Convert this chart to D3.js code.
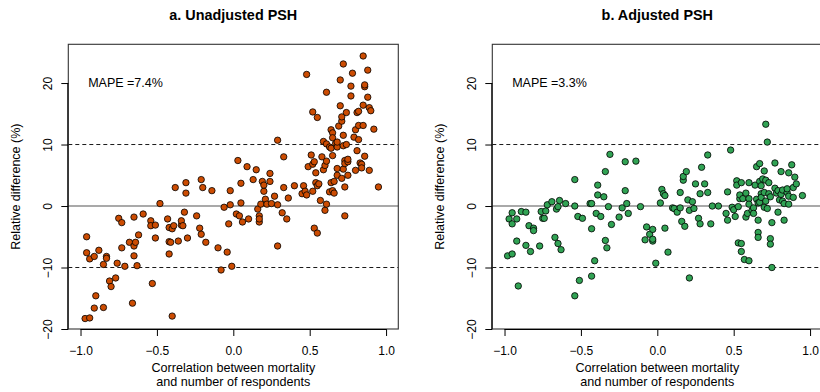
<!DOCTYPE html>
<html lang="en">
<head>
  <meta charset="UTF-8">
  <title>PSH relative difference</title>
  <script src="https://d3js.org/d3.v7.min.js"></script>
  <style>
    body { margin: 0; background: #fff; }
    svg text { font-family: "Liberation Sans", Arial, Helvetica, sans-serif; fill: #000; }
    .frame { fill: none; stroke: #333; stroke-width: 1.1; }
    .dot { stroke: #000; stroke-width: 0.8; }
  </style>
</head>
<body>
  <svg width="820" height="392"></svg>

  <script>
    // correlation (x) vs relative difference in % (y)
    let unadjusted = [
      [-0.96,-5.0],[-0.96,-7.6],[-0.94,-8.6],[-0.97,-18.3],[-0.94,-18.2],[-0.91,-8.2],[-0.88,-7.2],
      [-0.90,-14.6],[-0.91,-16.6],[-0.85,-16.5],[-0.85,-9.5],[-0.83,-8.2],[-0.83,-8.5],[-0.81,-12.2],
      [-0.80,-13.1],[-0.77,-11.7],[-0.76,-9.3],[-0.75,-2.0],[-0.73,-6.8],[-0.73,-2.7],[-0.71,-9.8],
      [-0.68,-5.9],[-0.65,-1.8],[-0.66,-15.8],[-0.65,-6.5],[-0.64,-5.9],[-0.65,-8.1],[-0.63,-9.7],
      [-0.62,-4.7],[-0.59,-1.3],[-0.54,-2.4],[-0.54,-3.2],[-0.53,-12.6],[-0.51,-3.1],[-0.51,-5.2],
      [-0.48,0.4],[-0.43,-2.1],[-0.42,-5.8],[-0.42,-7.8],[-0.42,-3.5],[-0.41,-5.9],[-0.40,-17.9],
      [-0.40,-3.7],[-0.39,-3.2],[-0.38,3.0],[-0.36,-5.7],[-0.34,-3.1],[-0.34,-2.4],[-0.33,-3.2],
      [-0.32,-1.0],[-0.31,2.1],[-0.31,3.8],[-0.30,-5.2],[-0.24,-1.6],[-0.22,-3.6],[-0.21,4.3],
      [-0.21,-4.6],[-0.20,3.0],[-0.18,-5.9],[-0.14,2.5],[-0.10,-6.8],[-0.08,-10.4],[-0.06,-0.2],
      [-0.04,-7.5],[-0.03,-2.9],[-0.02,2.5],[-0.02,0.2],[-0.01,-9.8],[0.02,-1.3],[0.03,7.4],
      [0.04,-1.6],[0.05,0.5],[0.05,3.7],[0.06,-2.6],[0.09,6.4],[0.10,-2.1],[0.13,4.3],[0.15,5.9],
      [0.16,-0.5],[0.17,-1.6],[0.17,-2.6],[0.17,-2.1],[0.18,0.3],[0.19,4.0],[0.20,2.4],[0.20,3.4],
      [0.21,1.1],[0.22,0.3],[0.24,4.0],[0.24,5.3],[0.25,0.4],[0.27,1.6],[0.29,-6.5],[0.29,10.7],
      [0.29,0.2],[0.32,-1.1],[0.33,3.0],[0.33,8.0],[0.35,-2.1],[0.36,1.3],[0.40,3.3],[0.45,2.0],
      [0.46,3.3],[0.47,2.4],[0.48,21.4],[0.48,1.8],[0.49,6.4],[0.51,8.3],[0.52,15.3],[0.52,6.8],
      [0.52,2.4],[0.53,-3.6],[0.53,7.2],[0.54,5.4],[0.54,3.8],[0.55,14.4],[0.55,-4.4],[0.55,3.3],
      [0.56,3.6],[0.57,0.9],[0.58,8.0],[0.59,10.5],[0.59,5.9],[0.60,-0.7],[0.60,6.6],[0.61,18.5],
      [0.61,0.3],[0.61,7.3],[0.61,10.1],[0.63,2.3],[0.63,9.6],[0.64,3.8],[0.64,12.4],[0.64,9.4],
      [0.65,11.9],[0.65,8.2],[0.65,2.5],[0.65,11.1],[0.66,4.0],[0.66,2.1],[0.67,10.2],[0.68,5.0],
      [0.68,6.1],[0.68,9.6],[0.68,10.4],[0.69,13.0],[0.70,16.3],[0.70,20.5],[0.71,13.8],[0.71,4.5],
      [0.71,14.5],[0.72,6.0],[0.72,11.5],[0.72,23.1],[0.72,9.8],[0.73,3.1],[0.73,7.4],[0.73,-1.6],
      [0.73,6.9],[0.74,10.0],[0.74,15.2],[0.75,7.2],[0.75,5.0],[0.75,7.6],[0.77,17.9],[0.77,19.5],
      [0.78,21.6],[0.79,11.2],[0.80,12.4],[0.80,5.8],[0.81,15.2],[0.81,9.0],[0.82,15.4],[0.82,10.8],
      [0.82,13.1],[0.83,7.0],[0.84,6.8],[0.84,6.2],[0.85,16.4],[0.85,13.1],[0.85,24.4],[0.86,19.4],
      [0.86,8.1],[0.86,19.7],[0.88,17.7],[0.88,22.1],[0.89,5.8],[0.89,16.0],[0.90,15.5],[0.92,12.5],
      [0.95,3.1]
    ];

    let adjusted = [
      [-0.98,-8.1],[-0.97,-2.1],[-0.95,-2.9],[-0.95,-1.1],[-0.95,-7.8],[-0.92,-2.1],[-0.92,-5.7],
      [-0.91,-13.0],[-0.89,-0.9],[-0.86,-1.0],[-0.86,-6.4],[-0.84,-3.2],[-0.83,-7.4],[-0.81,-3.6],
      [-0.81,-4.0],[-0.77,-6.5],[-0.76,-0.9],[-0.75,-2.0],[-0.74,-2.0],[-0.73,-0.8],[-0.72,0.2],
      [-0.69,0.7],[-0.67,-5.1],[-0.66,-0.5],[-0.65,-0.1],[-0.65,-6.1],[-0.64,0.9],[-0.63,-7.1],
      [-0.60,0.4],[-0.54,4.3],[-0.54,0.0],[-0.54,-14.6],[-0.52,-1.7],[-0.51,-12.1],[-0.49,-2.0],
      [-0.44,0.4],[-0.43,0.4],[-0.43,-3.7],[-0.43,-11.4],[-0.41,-8.9],[-0.40,-1.2],[-0.39,1.8],
      [-0.39,3.4],[-0.37,-1.7],[-0.35,1.5],[-0.34,5.6],[-0.34,-5.6],[-0.33,-6.8],[-0.32,-0.1],
      [-0.31,8.4],[-0.30,-3.0],[-0.25,-1.8],[-0.23,-0.3],[-0.21,7.2],[-0.21,2.5],[-0.20,0.4],
      [-0.19,-1.2],[-0.14,7.3],[-0.11,-0.1],[-0.08,-5.5],[-0.07,-3.4],[-0.05,-4.6],[-0.03,-5.7],
      [-0.03,-3.8],[-0.03,-5.4],[-0.01,-9.3],[0.02,0.5],[0.03,2.7],[0.04,2.0],[0.05,-3.6],
      [0.05,1.7],[0.07,-7.5],[0.10,-0.3],[0.11,-0.4],[0.13,-1.0],[0.15,2.2],[0.15,-0.3],[0.16,-2.5],
      [0.17,4.2],[0.17,4.8],[0.18,-3.3],[0.19,5.6],[0.20,1.0],[0.21,-0.7],[0.21,-11.7],[0.23,0.7],
      [0.24,-0.4],[0.25,3.6],[0.27,-2.0],[0.28,-2.9],[0.28,2.0],[0.29,6.3],[0.31,3.6],[0.33,2.2],
      [0.33,8.3],[0.35,-2.9],[0.36,0.0],[0.40,0.0],[0.45,-1.2],[0.46,2.3],[0.46,-2.3],[0.48,9.1],
      [0.49,-0.2],[0.50,-0.6],[0.51,-1.7],[0.52,4.1],[0.52,3.4],[0.53,-0.1],[0.53,-6.0],[0.54,1.2],
      [0.54,1.8],[0.55,3.8],[0.55,-6.1],[0.55,-7.4],[0.56,1.2],[0.57,-8.7],[0.58,-1.8],[0.58,2.1],
      [0.59,-1.2],[0.60,-8.9],[0.60,3.8],[0.60,1.2],[0.60,0.3],[0.62,-0.7],[0.63,-0.3],[0.63,-1.2],
      [0.64,3.4],[0.65,1.1],[0.65,6.4],[0.66,0.5],[0.66,-2.3],[0.66,-4.3],[0.66,-5.1],[0.67,4.0],
      [0.67,0.6],[0.67,6.9],[0.68,2.0],[0.68,3.3],[0.68,1.4],[0.69,4.4],[0.70,2.2],[0.70,5.7],
      [0.70,-0.2],[0.71,13.3],[0.71,4.2],[0.71,0.8],[0.72,10.4],[0.72,-0.4],[0.73,2.0],[0.73,3.8],
      [0.74,-5.3],[0.74,-6.2],[0.74,1.5],[0.75,-2.7],[0.75,-10.0],[0.77,2.9],[0.77,7.0],[0.78,2.1],
      [0.79,2.5],[0.79,-1.0],[0.80,1.0],[0.81,5.6],[0.81,1.9],[0.82,2.6],[0.82,0.8],[0.83,-2.3],
      [0.83,0.4],[0.85,2.2],[0.85,2.8],[0.86,5.4],[0.86,0.3],[0.86,1.6],[0.88,6.7],[0.89,1.4],
      [0.89,3.0],[0.90,4.7],[0.91,3.6],[0.95,1.7]
    ];

    let titles = ["a. Unadjusted PSH", "b. Adjusted PSH"];
    let mapeLabels = ["MAPE =7.4%", "MAPE =3.3%"];
    let fills = ["#cc4c02", "#31a354"];
    let xTicks = [-1, -0.5, 0, 0.5, 1];
    let yTicks = [-20, -10, 0, 10, 20];
    let dashedLines = [-10, 10];

    let svg = d3.select("svg");
    let plotW = 330;
    let plotTop = 44.3;
    let plotBottom = 329;
    let fmt = d => d3.format(".1f")(d).replace("-", "\u2212");

    function drawPanel(data, left, idx) {
      let x = d3.scaleLinear().domain([-1.08, 1.08]).range([left, left + plotW]);
      let y = d3.scaleLinear().domain([-20, 26.3]).range([plotBottom, plotTop]);
      let g = svg.append("g");

      // reference lines
      g.append("line")
        .attr("x1", left).attr("x2", left + plotW)
        .attr("y1", y(0)).attr("y2", y(0))
        .attr("stroke", "#555").attr("stroke-width", 1.2);
      g.selectAll(".dash").data(dashedLines).enter().append("line")
        .attr("x1", left).attr("x2", left + plotW)
        .attr("y1", d => y(d)).attr("y2", d => y(d))
        .attr("stroke", "#000").attr("stroke-width", 0.9)
        .attr("stroke-dasharray", "4,3");

      g.selectAll(".dot").data(data).enter().append("circle")
        .attr("class", "dot")
        .attr("cx", d => x(d[0]))
        .attr("cy", d => y(d[1]))
        .attr("r", 3.2)
        .attr("fill", fills[idx]);

      g.append("rect").attr("class", "frame")
        .attr("x", left).attr("y", plotTop)
        .attr("width", plotW).attr("height", plotBottom - plotTop);

      // x axis
      let xAxis = d3.axisBottom(x).tickValues(xTicks).tickSize(7).tickFormat(fmt);
      let gx = g.append("g").attr("transform", "translate(0," + plotBottom + ")").call(xAxis);
      gx.select(".domain").attr("d", "M" + x(-1) + ",0.5H" + x(1));
      gx.selectAll("text").attr("font-size", 12).attr("dy", "0.71em").attr("y", 17)
        .style("font-family", "Liberation Sans, Arial, sans-serif");

      // y axis, labels rotated like base R
      let yAxis = d3.axisLeft(y).tickValues(yTicks).tickSize(7)
        .tickFormat(d => String(d).replace("-", "\u2212"));
      let gy = g.append("g").attr("transform", "translate(" + left + ",0)").call(yAxis);
      gy.select(".domain").attr("d", "M-0.5," + y(-20) + "V" + y(20));
      gy.selectAll("text")
        .attr("x", null).attr("dy", null)
        .attr("text-anchor", "middle")
        .attr("transform", "translate(-20,0) rotate(-90)")
        .attr("dominant-baseline", "central")
        .attr("font-size", 12)
        .style("font-family", "Liberation Sans, Arial, sans-serif");

      let cx = left + plotW / 2;
      svg.append("text").attr("x", cx).attr("y", 20)
        .attr("text-anchor", "middle").attr("font-size", 14.4).attr("font-weight", "bold")
        .text(titles[idx]);
      svg.append("text").attr("x", cx).attr("y", 372)
        .attr("text-anchor", "middle").attr("font-size", 12.6)
        .text("Correlation between mortality");
      svg.append("text").attr("x", cx).attr("y", 386)
        .attr("text-anchor", "middle").attr("font-size", 12.6)
        .text("and number of respondents");
      svg.append("text")
        .attr("transform", "translate(" + (left - 52) + "," + (plotTop + plotBottom) / 2 + ") rotate(-90)")
        .attr("text-anchor", "middle").attr("dominant-baseline", "central").attr("font-size", 12.5)
        .text("Relative difference (%)");
      svg.append("text").attr("x", x(-0.95)).attr("y", y(20))
        .attr("dominant-baseline", "central").attr("font-size", 12.5)
        .text(mapeLabels[idx]);
    }

    drawPanel(unadjusted, 68.3, 0);
    drawPanel(adjusted, 492.3, 1);
  </script>
</body>
</html>
